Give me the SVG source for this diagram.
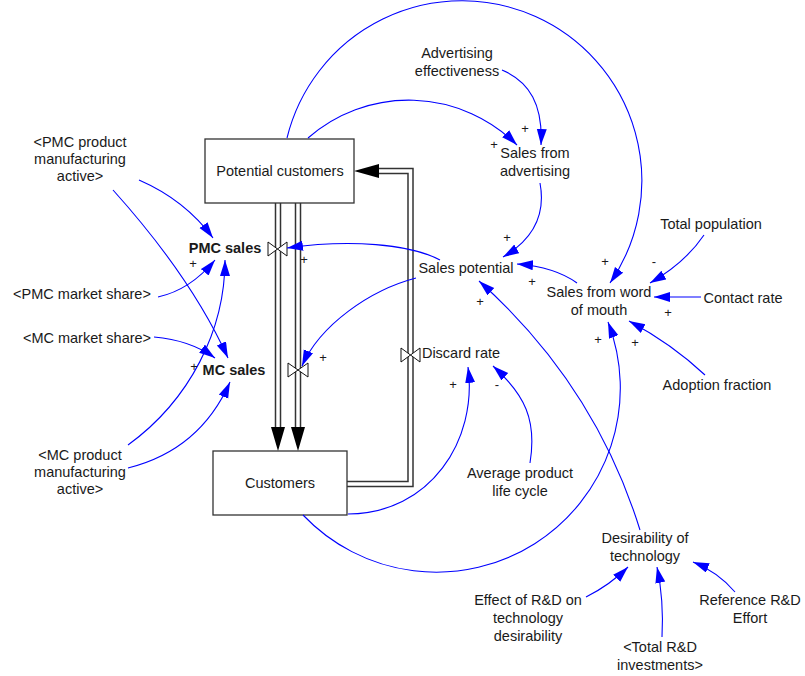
<svg xmlns="http://www.w3.org/2000/svg" width="805" height="676" viewBox="0 0 805 676">
<style>
text{font-family:"Liberation Sans",Arial,sans-serif;font-size:14.5px;fill:#1a1a1a;text-anchor:middle}
.b{font-weight:bold}
.s{font-size:13px}
.lk{fill:none;stroke:#0000ff;stroke-width:1.1;marker-end:url(#ah)}
.po{fill:none;stroke:#333;stroke-width:6.5;stroke-linejoin:miter}
.pi{fill:none;stroke:#fff;stroke-width:3.5;stroke-linejoin:miter}
.box{fill:#fff;stroke:#333;stroke-width:1.3}
.valve{fill:#fff;stroke:#111;stroke-width:1}
</style>
<defs>
<marker id="ah" markerUnits="userSpaceOnUse" markerWidth="18" markerHeight="12" refX="16" refY="5" orient="auto">
<path d="M0,0 L16,5 L0,10 Z" fill="#0000ff"/>
</marker>
</defs>
<rect width="805" height="676" fill="#fff"/>
<g id="flows">
<path class="po" d="M278,203 V428 M298,203 V428 M347,484 H410.5 V171 H378"/>
<path class="pi" d="M278,203 V428 M298,203 V428 M347,484 H410.5 V171 H378"/>
<path d="M271,427 L285,427 L278,451 Z M291,427 L305,427 L298,451 Z M379,164 L379,178 L354,171 Z" fill="#000"/>
</g>
<g id="potential-customers"><rect class="box" x="205" y="139" width="149" height="64"/><text x="280" y="176">Potential customers</text></g>
<g id="customers"><rect class="box" x="213" y="451" width="134" height="64"/><text x="280" y="488">Customers</text></g>
<g id="pmc-sales"><path class="valve" d="M268,242 L287,256 L287,242 L268,256 Z"/><text class="b" x="225" y="253">PMC sales</text></g>
<g id="mc-sales"><path class="valve" d="M288,363 L308,377 L308,363 L288,377 Z"/><text class="b" x="234" y="375">MC sales</text></g>
<g id="discard-rate"><path class="valve" d="M401,348 L420,362 L420,348 L401,362 Z"/><text x="461" y="358">Discard rate</text></g>
<g id="advertising-effectiveness"><text x="457" y="57.5">Advertising</text><text x="457" y="76">effectiveness</text></g>
<g id="sales-from-advertising"><text x="535" y="158">Sales from</text><text x="535" y="176">advertising</text></g>
<g id="sales-potential"><text x="466" y="273">Sales potential</text></g>
<g id="sales-from-word-of-mouth"><text x="599" y="297">Sales from word</text><text x="599" y="315">of mouth</text></g>
<g id="total-population"><text x="711" y="229">Total population</text></g>
<g id="contact-rate"><text x="743" y="303">Contact rate</text></g>
<g id="adoption-fraction"><text x="717" y="390">Adoption fraction</text></g>
<g id="desirability-of-technology"><text x="645" y="543">Desirability of</text><text x="645" y="561">technology</text></g>
<g id="effect-of-rd"><text x="528" y="605">Effect of R&amp;D on</text><text x="528" y="623">technology</text><text x="528" y="641">desirability</text></g>
<g id="reference-rd-effort"><text x="750" y="605">Reference R&amp;D</text><text x="750" y="623">Effort</text></g>
<g id="total-rd-investments"><text x="660" y="652">&lt;Total R&amp;D</text><text x="660" y="670">investments&gt;</text></g>
<g id="average-product-life-cycle"><text x="520" y="478">Average product</text><text x="520" y="496">life cycle</text></g>
<g id="pmc-product-manufacturing-active"><text x="80" y="147">&lt;PMC product</text><text x="80" y="164">manufacturing</text><text x="80" y="181">active&gt;</text></g>
<g id="pmc-market-share"><text x="82" y="299">&lt;PMC market share&gt;</text></g>
<g id="mc-market-share"><text x="87" y="343">&lt;MC market share&gt;</text></g>
<g id="mc-product-manufacturing-active"><text x="80" y="460">&lt;MC product</text><text x="80" y="477">manufacturing</text><text x="80" y="494">active&gt;</text></g>
<g id="connectors">
<path class="lk" d="M287,138 A180,180 0 1,1 610,283"/>
<path class="lk" d="M308,138 A153,153 0 0,1 517,145"/>
<path class="lk" d="M502,70 C530,82 543,105 541,145"/>
<path class="lk" d="M540,183 C546,215 532,240 503,257"/>
<path class="lk" d="M577,283 Q555,267 517,264"/>
<path class="lk" d="M704,235 Q685,263 650,283"/>
<path class="lk" d="M701,297 L654,297"/>
<path class="lk" d="M705,375 Q672,344 629,321"/>
<path class="lk" d="M303,515 A184,184 0 0,0 608,322"/>
<path class="lk" d="M348,514 C430,514 478,440 468,367"/>
<path class="lk" d="M530,463 C537,420 525,395 493,366"/>
<path class="lk" d="M440,260 C410,244 350,239 287,248"/>
<path class="lk" d="M416,278 C370,290 320,325 302,366"/>
<path class="lk" d="M640,530 Q595,385 479,281"/>
<path class="lk" d="M586,597 Q610,585 628,567"/>
<path class="lk" d="M662,637 Q664,600 657,567"/>
<path class="lk" d="M735,592 Q718,572 693,562"/>
<path class="lk" d="M139,180 Q185,200 213,238"/>
<path class="lk" d="M113,190 C140,220 195,285 228,358"/>
<path class="lk" d="M158,297 Q190,290 215,260"/>
<path class="lk" d="M154,337 Q190,340 215,358"/>
<path class="lk" d="M128,445 C190,400 225,330 225,260"/>
<path class="lk" d="M128,468 Q200,450 230,382"/>
</g>
<g id="polarities">
<text class="s" x="525" y="133">+</text>
<text class="s" x="494" y="149">+</text>
<text class="s" x="507" y="242">+</text>
<text class="s" x="532" y="286">+</text>
<text class="s" x="480" y="306">+</text>
<text class="s" x="605" y="266">+</text>
<text class="s" x="654" y="266">-</text>
<text class="s" x="668" y="317">+</text>
<text class="s" x="598" y="344">+</text>
<text class="s" x="635" y="347">+</text>
<text class="s" x="304" y="264">+</text>
<text class="s" x="193" y="268">+</text>
<text class="s" x="194" y="371">+</text>
<text class="s" x="323" y="362">+</text>
<text class="s" x="453" y="389">+</text>
<text class="s" x="497" y="389">-</text>
</g>
</svg>
